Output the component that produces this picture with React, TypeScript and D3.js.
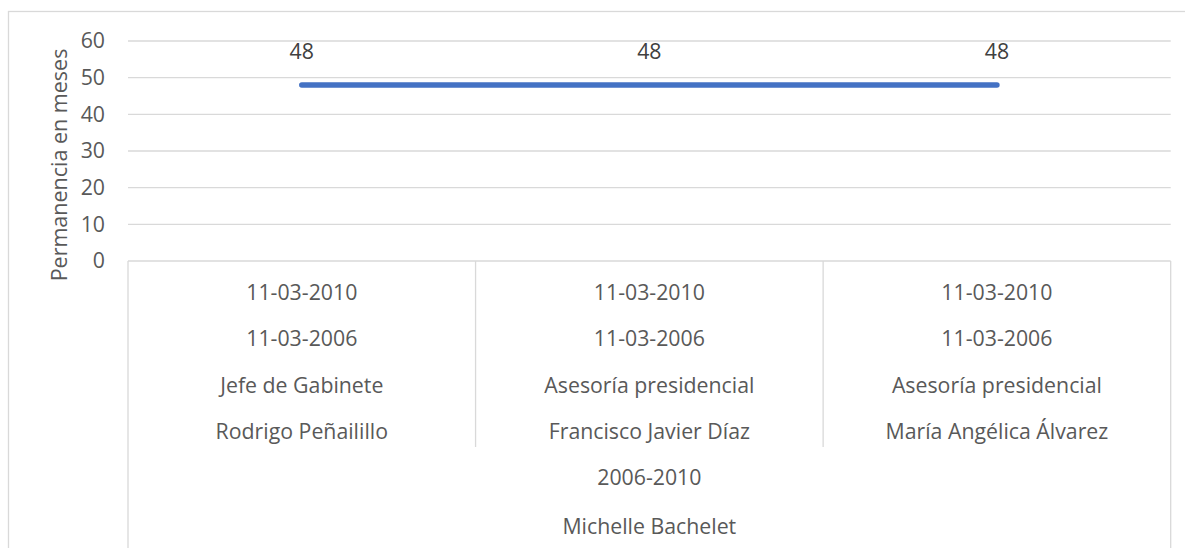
import React from 'react';
import * as d3 from 'd3';

// chart data
const endDates = ['11-03-2010', '11-03-2010', '11-03-2010'];
const startDates = ['11-03-2006', '11-03-2006', '11-03-2006'];
const roles = ['Jefe de Gabinete', 'Asesoría presidencial', 'Asesoría presidencial'];
const names = ['Rodrigo Peñailillo', 'Francisco Javier Díaz', 'María Angélica Álvarez'];
const periodLabel = '2006-2010';
const presidentLabel = 'Michelle Bachelet';
const months = [48, 48, 48];
const yTicks = [0, 10, 20, 30, 40, 50, 60];
const yTitle = 'Permanencia en meses';

const W = 1185;
const H = 548;
const FONT = '"Open Sans", sans-serif';
const FS = 21.3;
const GRID = '#d9d9d9';
const TEXT = '#595959';

const App = () => {
  const x = d3.scaleBand<number>().domain(d3.range(names.length)).range([128, 1170.7]).padding(0);
  const y = d3.scaleLinear().domain([0, 60]).range([261, 41]);
  const cx = (i: number) => (x(i) as number) + x.bandwidth() / 2;

  const line = d3
    .line<number>()
    .x((_, i) => cx(i))
    .y((d) => y(d));

  const rows = [endDates, startDates, roles, names];
  const rowY = [293, 339, 386, 432];
  const x0 = x.range()[0];
  const x1 = x.range()[1];
  const mid = (x0 + x1) / 2;

  return (
    <svg width={W} height={H} style={{ position: 'absolute', left: 0, top: 0, background: '#fff' }}>
      <rect x={8.5} y={11.5} width={1200} height={560} fill="#fff" stroke={GRID} strokeWidth={1.3} />

      {yTicks.map((t) => (
        <g key={t}>
          <line x1={x0} x2={x1} y1={y(t)} y2={y(t)} stroke={GRID} strokeWidth={1.3} />
          <text x={105} y={y(t)} dy="0.35em" textAnchor="end" fontFamily={FONT} fontSize={FS} fill={TEXT}>
            {t}
          </text>
        </g>
      ))}

      <text
        transform={`translate(67,165) rotate(-90)`}
        textAnchor="middle"
        fontFamily={FONT}
        fontSize={21.5}
        fill={TEXT}
      >
        {yTitle}
      </text>

      {/* category axis frame */}
      <line x1={x0} x2={x0} y1={y(0)} y2={H} stroke={GRID} strokeWidth={1.3} />
      <line x1={x1} x2={x1} y1={y(0)} y2={H} stroke={GRID} strokeWidth={1.3} />
      {d3.range(1, names.length).map((i) => (
        <line key={i} x1={x(i)} x2={x(i)} y1={y(0)} y2={447} stroke={GRID} strokeWidth={1.3} />
      ))}

      {rows.map((row, r) =>
        row.map((label, i) => (
          <text
            key={`${r}-${i}`}
            x={cx(i)}
            y={rowY[r]}
            dy="0.35em"
            textAnchor="middle"
            fontFamily={FONT}
            fontSize={FS}
            fill={TEXT}
          >
            {label}
          </text>
        ))
      )}
      <text x={mid} y={478} dy="0.35em" textAnchor="middle" fontFamily={FONT} fontSize={FS} fill={TEXT}>
        {periodLabel}
      </text>
      <text x={mid} y={527} dy="0.35em" textAnchor="middle" fontFamily={FONT} fontSize={FS} fill={TEXT}>
        {presidentLabel}
      </text>

      <path d={line(months) || ''} fill="none" stroke="#4472C4" strokeWidth={5.5} strokeLinecap="round" />
      {months.map((m, i) => (
        <text
          key={i}
          x={cx(i)}
          y={y(m) - 33}
          dy="0.35em"
          textAnchor="middle"
          fontFamily={FONT}
          fontSize={FS}
          fill="#404040"
        >
          {m}
        </text>
      ))}
    </svg>
  );
};

export default App;
